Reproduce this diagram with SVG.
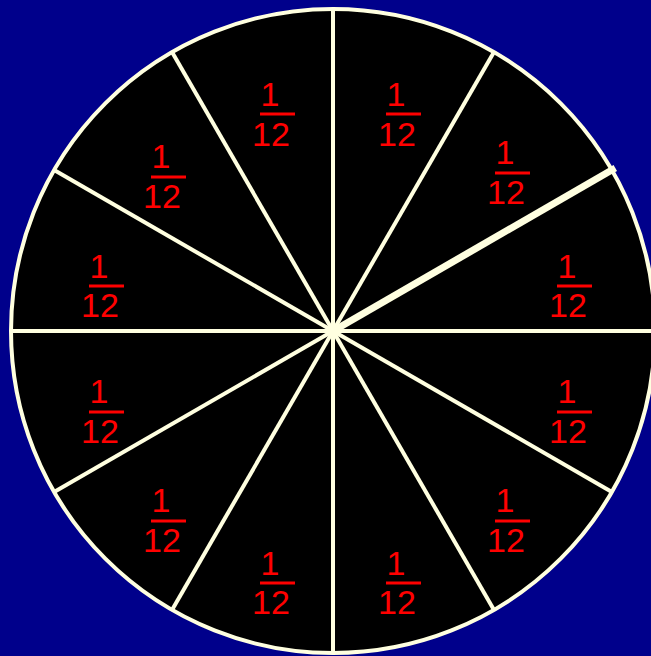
<svg xmlns="http://www.w3.org/2000/svg" width="651" height="656" viewBox="0 0 651 656">
<defs>
<style>
.spoke{stroke:#FFFFE0;stroke-width:4;stroke-linecap:butt}
.num{font-family:"Liberation Sans",Arial,sans-serif;font-size:34px;fill:#FF0000;text-anchor:middle}
.bar{stroke:#FF0000;stroke-width:3}
</style>
</defs>
<rect x="0" y="0" width="651" height="656" fill="#00008B"/>
<g id="wheel">
<circle cx="333" cy="331" r="322" fill="#000000" stroke="#FFFFE0" stroke-width="4"/>
</g>
<g id="connectors">
<line class="spoke" x1="333" y1="331" x2="333" y2="9"/>
<line class="spoke" x1="333" y1="331" x2="494" y2="52.1"/>
<line class="spoke" x1="333" y1="331" x2="615.3" y2="168" style="stroke-width:7"/>
<line class="spoke" x1="333" y1="331" x2="655" y2="331"/>
<line class="spoke" x1="333" y1="331" x2="611.9" y2="492"/>
<line class="spoke" x1="333" y1="331" x2="494" y2="609.9"/>
<line class="spoke" x1="333" y1="331" x2="333" y2="653"/>
<line class="spoke" x1="333" y1="331" x2="172" y2="609.9"/>
<line class="spoke" x1="333" y1="331" x2="54.1" y2="492"/>
<line class="spoke" x1="333" y1="331" x2="11" y2="331"/>
<line class="spoke" x1="333" y1="331" x2="54.1" y2="170"/>
<line class="spoke" x1="333" y1="331" x2="172" y2="52.1"/>
<circle cx="333" cy="331" r="6" fill="#FFFFE0"/>
</g>
<g id="label1"><text class="num" x="270" y="106">1</text><line class="bar" x1="260" y1="114" x2="295" y2="114"/><text class="num" x="271" y="146">12</text></g>
<g id="label2"><text class="num" x="396" y="106">1</text><line class="bar" x1="386" y1="114" x2="421" y2="114"/><text class="num" x="397" y="146">12</text></g>
<g id="label3"><text class="num" x="505" y="164">1</text><line class="bar" x1="495" y1="173" x2="530" y2="173"/><text class="num" x="506" y="204">12</text></g>
<g id="label4"><text class="num" x="567" y="278">1</text><line class="bar" x1="557" y1="286" x2="592" y2="286"/><text class="num" x="568" y="317">12</text></g>
<g id="label5"><text class="num" x="567" y="403">1</text><line class="bar" x1="557" y1="412" x2="592" y2="412"/><text class="num" x="568" y="443">12</text></g>
<g id="label6"><text class="num" x="505" y="512">1</text><line class="bar" x1="495" y1="521" x2="530" y2="521"/><text class="num" x="506" y="552">12</text></g>
<g id="label7"><text class="num" x="396" y="575">1</text><line class="bar" x1="386" y1="583" x2="421" y2="583"/><text class="num" x="397" y="614">12</text></g>
<g id="label8"><text class="num" x="270" y="575">1</text><line class="bar" x1="260" y1="583" x2="295" y2="583"/><text class="num" x="271" y="614">12</text></g>
<g id="label9"><text class="num" x="161" y="512">1</text><line class="bar" x1="151" y1="521" x2="186" y2="521"/><text class="num" x="162" y="552">12</text></g>
<g id="label10"><text class="num" x="99" y="403">1</text><line class="bar" x1="89" y1="412" x2="124" y2="412"/><text class="num" x="100" y="443">12</text></g>
<g id="label11"><text class="num" x="99" y="278">1</text><line class="bar" x1="89" y1="286" x2="124" y2="286"/><text class="num" x="100" y="317">12</text></g>
<g id="label12"><text class="num" x="161" y="168">1</text><line class="bar" x1="151" y1="177" x2="186" y2="177"/><text class="num" x="162" y="208">12</text></g>
</svg>
